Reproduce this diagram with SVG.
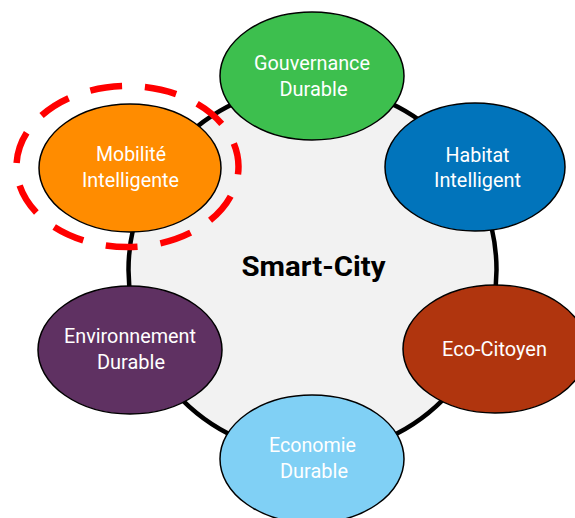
<svg xmlns="http://www.w3.org/2000/svg" width="575" height="518" viewBox="0 0 575 518">
<style>
.n{stroke:#000;stroke-width:1.5}
.t{font-family:Roboto,"Liberation Sans",sans-serif;font-size:20px;fill:#fff;text-anchor:middle}
.c{font-family:Roboto,"Liberation Sans",sans-serif;font-size:27px;font-weight:bold;fill:#000;text-anchor:middle}
</style>
<rect width="575" height="518" fill="#fff"/>
<g id="connectors">
<circle cx="312.5" cy="270" r="184" fill="#f2f2f2" stroke="#000" stroke-width="4.5"/>
</g>
<g id="center"><text class="c" x="313.5" y="275.5" textLength="144" lengthAdjust="spacingAndGlyphs">Smart-City</text></g>
<g id="gouvernance">
<ellipse class="n" cx="312" cy="76" rx="92" ry="64" fill="#3dbf4e"/>
<text class="t" x="312" y="70" textLength="116" lengthAdjust="spacingAndGlyphs">Gouvernance</text><text class="t" x="313.5" y="96" textLength="68" lengthAdjust="spacingAndGlyphs">Durable</text>
</g>
<g id="habitat">
<ellipse class="n" cx="475" cy="167" rx="90" ry="64" fill="#0174bb"/>
<text class="t" x="477.5" y="161.5" textLength="64" lengthAdjust="spacingAndGlyphs">Habitat</text><text class="t" x="477.5" y="187" textLength="87" lengthAdjust="spacingAndGlyphs">Intelligent</text>
</g>
<g id="ecocitoyen">
<ellipse class="n" cx="495" cy="349" rx="92" ry="64" fill="#b0350e"/>
<text class="t" x="494.5" y="356" textLength="105" lengthAdjust="spacingAndGlyphs">Eco-Citoyen</text>
</g>
<g id="economie">
<ellipse class="n" cx="312" cy="459" rx="92" ry="64" fill="#80d0f5"/>
<text class="t" x="312.5" y="452" textLength="87" lengthAdjust="spacingAndGlyphs">Economie</text><text class="t" x="314" y="478" textLength="68" lengthAdjust="spacingAndGlyphs">Durable</text>
</g>
<g id="environnement">
<ellipse class="n" cx="130" cy="350" rx="92" ry="64" fill="#5f3162"/>
<text class="t" x="130" y="343" textLength="132" lengthAdjust="spacingAndGlyphs">Environnement</text><text class="t" x="131" y="369" textLength="68" lengthAdjust="spacingAndGlyphs">Durable</text>
</g>
<g id="mobilite">
<ellipse class="n" cx="130" cy="168" rx="91" ry="64" fill="#ff8c00"/>
<text class="t" x="131" y="161" textLength="70" lengthAdjust="spacingAndGlyphs">Mobilité</text><text class="t" x="130.5" y="187" textLength="97" lengthAdjust="spacingAndGlyphs">Intelligente</text>
<ellipse cx="127.5" cy="166.5" rx="111" ry="80.5" fill="none" stroke="#ff0000" stroke-width="6.5" stroke-dasharray="32 23" stroke-dashoffset="24"/>
</g>
</svg>
